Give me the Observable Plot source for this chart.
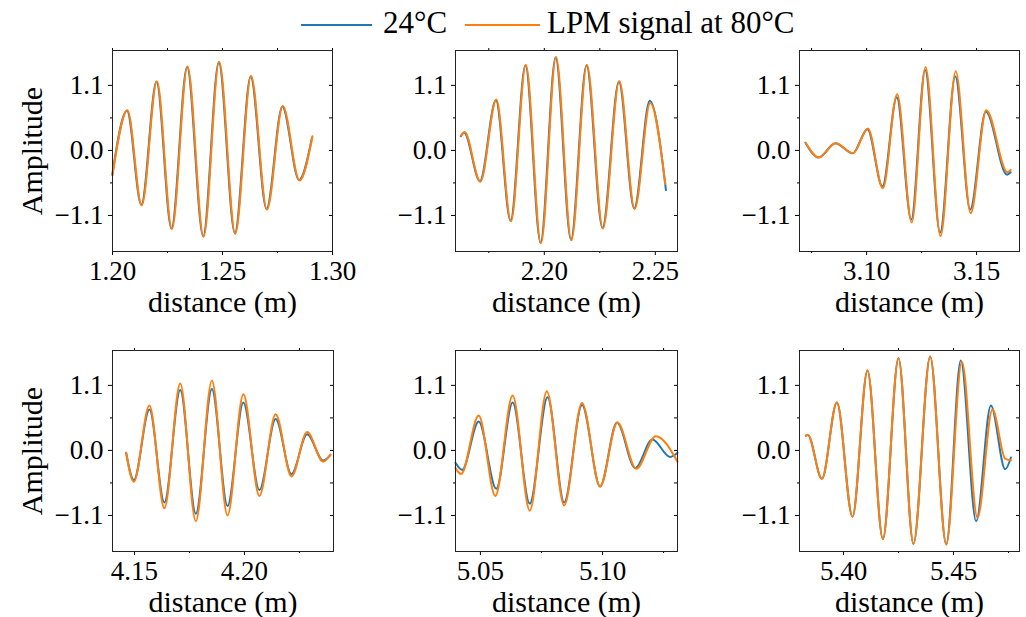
<!DOCTYPE html>
<html>
<head>
<meta charset="utf-8">
<script src="https://cdn.jsdelivr.net/npm/d3@7"></script>
<script src="https://cdn.jsdelivr.net/npm/@observablehq/plot@0.6"></script>
<style>
  html, body { margin: 0; padding: 0; background: #fff; }
  #root { position: relative; width: 1026px; height: 617px; overflow: hidden; font-family: "Liberation Serif", "Times New Roman", serif; }
  .leg { position: absolute; top: 5px; font-size: 31px; line-height: 35px; white-space: nowrap; color: #000; }
  .sw { position: absolute; height: 0; border-top: 2px solid; }
</style>
</head>
<body>
<div id="root"></div>
<script>
// ---------- data ----------
const seriesNames = ["24°C", "LPM signal at 80°C"];
const seriesColors = ["#1f77b4", "#ff7f0e"];
const yTicks = [-1.1, 0, 1.1];
const yMinor = [-0.55, 0.55];
const yDomain = [-1.71, 1.69];

// panel 1
const p1Domain = [1.20, 1.30];
const p1Ticks = [1.20, 1.25, 1.30];
const p1Minor = [1.225, 1.275];
const p1_80x = [1.2000, 1.2068, 1.2133, 1.2202, 1.2270, 1.2341, 1.2414, 1.2485, 1.2558, 1.2630, 1.2702, 1.2774, 1.2850, 1.2909];
const p1_80y = [-0.42, 0.68, -0.93, 1.17, -1.33, 1.42, -1.46, 1.50, -1.41, 1.26, -1.00, 0.75, -0.51, 0.24];
const p1_24x = [1.1999, 1.2066, 1.2131, 1.2200, 1.2268, 1.2339, 1.2412, 1.2483, 1.2556, 1.2628, 1.2700, 1.2772, 1.2848, 1.2907];
const p1_24y = [-0.41, 0.67, -0.92, 1.16, -1.32, 1.41, -1.45, 1.49, -1.40, 1.25, -0.99, 0.74, -0.50, 0.22];

// panel 2
const p2Domain = [2.16, 2.26];
const p2Ticks = [2.20, 2.25];
const p2Minor = [2.175, 2.225];
const p2_80x = [2.1625, 2.1641, 2.1712, 2.1784, 2.1850, 2.1917, 2.1985, 2.2053, 2.2122, 2.2192, 2.2264, 2.2338, 2.2407, 2.2477, 2.2545];
const p2_80y = [0.25, 0.31, -0.53, 0.86, -1.20, 1.45, -1.57, 1.58, -1.52, 1.45, -1.32, 1.17, -0.99, 0.80, -0.57];
const p2_24x = [2.1624, 2.1639, 2.1710, 2.1782, 2.1848, 2.1915, 2.1983, 2.2051, 2.2120, 2.2190, 2.2262, 2.2336, 2.2405, 2.2475, 2.2548];
const p2_24y = [0.24, 0.30, -0.52, 0.85, -1.19, 1.44, -1.56, 1.57, -1.51, 1.44, -1.31, 1.16, -0.98, 0.84, -0.67];

// panel 3
const p3Domain = [3.0695, 3.1695];
const p3Ticks = [3.10, 3.15];
const p3Minor = [3.075, 3.125];
const p3_80x = [3.0723, 3.0783, 3.0859, 3.0938, 3.1006, 3.1074, 3.1139, 3.1205, 3.1268, 3.1336, 3.1405, 3.1473, 3.1544, 3.1640, 3.1655];
const p3_80y = [0.13, -0.12, 0.12, -0.05, 0.37, -0.64, 0.95, -1.22, 1.41, -1.45, 1.34, -1.06, 0.68, -0.37, -0.33];
const p3_24x = [3.0722, 3.0782, 3.0858, 3.0937, 3.1004, 3.1072, 3.1137, 3.1203, 3.1266, 3.1334, 3.1403, 3.1471, 3.1542, 3.1638, 3.1655];
const p3_24y = [0.13, -0.12, 0.12, -0.05, 0.36, -0.61, 0.90, -1.17, 1.36, -1.39, 1.25, -1.00, 0.66, -0.41, -0.37];

// panel 4
const p4Domain = [4.14, 4.2405];
const p4Ticks = [4.15, 4.20];
const p4Minor = [4.175, 4.225];
const p4x = [4.1462, 4.1497, 4.1568, 4.1636, 4.1708, 4.1779, 4.1852, 4.1923, 4.1995, 4.2068, 4.2142, 4.2214, 4.2285, 4.2358, 4.2391];
const p4_80y = [-0.04, -0.53, 0.76, -0.98, 1.13, -1.20, 1.18, -1.10, 0.95, -0.77, 0.61, -0.44, 0.31, -0.19, -0.07];
const p4_24y = [-0.04, -0.50, 0.69, -0.88, 1.02, -1.07, 1.04, -0.94, 0.81, -0.67, 0.53, -0.40, 0.275, -0.17, -0.08];

// panel 5
const p5Domain = [5.0398, 5.1307];
const p5Ticks = [5.05, 5.10];
const p5Minor = [5.075, 5.125];
const p5_80x = [5.0398, 5.0421, 5.0493, 5.0561, 5.0632, 5.0702, 5.0772, 5.0843, 5.0916, 5.0990, 5.1061, 5.1138, 5.1218, 5.1307];
const p5_80y = [-0.30, -0.40, 0.59, -0.77, 0.93, -1.02, 1.00, -0.93, 0.80, -0.61, 0.47, -0.31, 0.24, -0.19];
const p5_24x = [5.0398, 5.0425, 5.0493, 5.0565, 5.0632, 5.0702, 5.0775, 5.0843, 5.0916, 5.0990, 5.1059, 5.1134, 5.1204, 5.1277, 5.1307];
const p5_24y = [-0.21, -0.33, 0.49, -0.65, 0.81, -0.90, 0.90, -0.88, 0.77, -0.61, 0.47, -0.30, 0.185, -0.11, -0.04];

// panel 6
const p6Domain = [5.38, 5.48];
const p6Ticks = [5.40, 5.45];
const p6Minor = [5.425, 5.475];
const p6_80x = [5.3829, 5.3838, 5.3902, 5.3970, 5.4041, 5.4109, 5.4179, 5.4250, 5.4318, 5.4394, 5.4467, 5.4538, 5.4609, 5.4677, 5.4735, 5.4761];
const p6_80y = [0.25, 0.26, -0.48, 0.81, -1.12, 1.35, -1.50, 1.56, -1.58, 1.59, -1.59, 1.50, -1.14, 0.69, -0.14, -0.17];
const p6_24x = [5.3829, 5.3838, 5.3902, 5.3970, 5.4041, 5.4109, 5.4179, 5.4250, 5.4318, 5.4394, 5.4467, 5.4533, 5.4603, 5.4670, 5.4735, 5.4761];
const p6_24y = [0.25, 0.26, -0.48, 0.81, -1.12, 1.35, -1.50, 1.56, -1.58, 1.59, -1.59, 1.52, -1.20, 0.76, -0.32, -0.12];

const xLabel = "distance (m)";
const yLabel = "Amplitude";

// ---------- layout ----------
const panels = [
  {domain: p1Domain, ticks: p1Ticks, minor: p1Minor, x24: p1_24x, y24: p1_24y, x80: p1_80x, y80: p1_80y, left: 112, top: 50, w: 220, ylab: true},
  {domain: p2Domain, ticks: p2Ticks, minor: p2Minor, x24: p2_24x, y24: p2_24y, x80: p2_80x, y80: p2_80y, left: 455, top: 50, w: 222},
  {domain: p3Domain, ticks: p3Ticks, minor: p3Minor, x24: p3_24x, y24: p3_24y, x80: p3_80x, y80: p3_80y, left: 799, top: 50, w: 220},
  {domain: p4Domain, ticks: p4Ticks, minor: p4Minor, x24: p4x, y24: p4_24y, x80: p4x, y80: p4_80y, left: 112, top: 350, w: 221, ylab: true},
  {domain: p5Domain, ticks: p5Ticks, minor: p5Minor, x24: p5_24x, y24: p5_24y, x80: p5_80x, y80: p5_80y, left: 455, top: 350, w: 222},
  {domain: p6Domain, ticks: p6Ticks, minor: p6Minor, x24: p6_24x, y24: p6_24y, x80: p6_80x, y80: p6_80y, left: 799, top: 350, w: 220}
];

const root = document.getElementById("root");
const fmtX = d3.format(".2f");
const fmtY = d3.format(".1f");
const blank = () => "";

for (const p of panels) {
  const mL = 110, mR = 8, mT = 10, mB = 66, h = 201;
  const d24 = p.x24.map((x, i) => ({x, y: p.y24[i]}));
  const d80 = p.x80.map((x, i) => ({x, y: p.y80[i]}));
  const chart = Plot.plot({
    width: mL + p.w + mR,
    height: mT + h + mB,
    marginLeft: mL, marginRight: mR, marginTop: mT, marginBottom: mB,
    style: {fontFamily: "'Liberation Serif', 'Times New Roman', serif", fontSize: "27px", background: "transparent", color: "#000", overflow: "visible"},
    x: {domain: p.domain},
    y: {domain: yDomain},
    marks: [
      Plot.axisX({ticks: p.ticks, tickSize: 4, tickPadding: 5, tickFormat: fmtX, label: null}),
      Plot.axisX({ticks: p.minor, tickSize: 2, tickFormat: blank, label: null}),
      Plot.axisX({anchor: "top", ticks: [...p.ticks, ...p.minor], tickSize: 3, tickFormat: blank, label: null}),
      Plot.axisY({ticks: yTicks, tickSize: 4, tickPadding: 5, tickFormat: fmtY, label: null}),
      Plot.axisY({ticks: yMinor, tickSize: 2, tickFormat: blank, label: null}),
      Plot.axisY({anchor: "right", ticks: [...yTicks, ...yMinor], tickSize: -4, tickFormat: blank, label: null}),
      Plot.line(d24, {x: "x", y: "y", stroke: seriesColors[0], strokeWidth: 2, curve: "monotone-x"}),
      Plot.line(d80, {x: "x", y: "y", stroke: seriesColors[1], strokeWidth: 2, curve: "monotone-x"}),
      Plot.frame({stroke: "#222", strokeWidth: 1}),
      Plot.text([xLabel], {text: d => d, frameAnchor: "bottom", lineAnchor: "middle", textAnchor: "middle", dy: 51, fontSize: 30, fill: "#000"}),
      p.ylab ? Plot.text([yLabel], {text: d => d, frameAnchor: "left", lineAnchor: "middle", textAnchor: "middle", dx: -80, rotate: -90, fontSize: 30, fill: "#000"}) : null
    ]
  });
  chart.style.position = "absolute";
  chart.style.left = (p.left - mL) + "px";
  chart.style.top = (p.top - mT) + "px";
  root.appendChild(chart);
}

// legend
const legendItems = [
  {name: seriesNames[0], color: seriesColors[0], sx: 301, sw: 71, tx: 383},
  {name: seriesNames[1], color: seriesColors[1], sx: 465, sw: 75, tx: 547}
];
for (const it of legendItems) {
  const s = document.createElement("div");
  s.className = "sw";
  s.style.left = it.sx + "px";
  s.style.top = "24px";
  s.style.width = it.sw + "px";
  s.style.borderColor = it.color;
  root.appendChild(s);
  const t = document.createElement("div");
  t.className = "leg";
  t.style.left = it.tx + "px";
  t.textContent = it.name;
  root.appendChild(t);
}
</script>
</body>
</html>
